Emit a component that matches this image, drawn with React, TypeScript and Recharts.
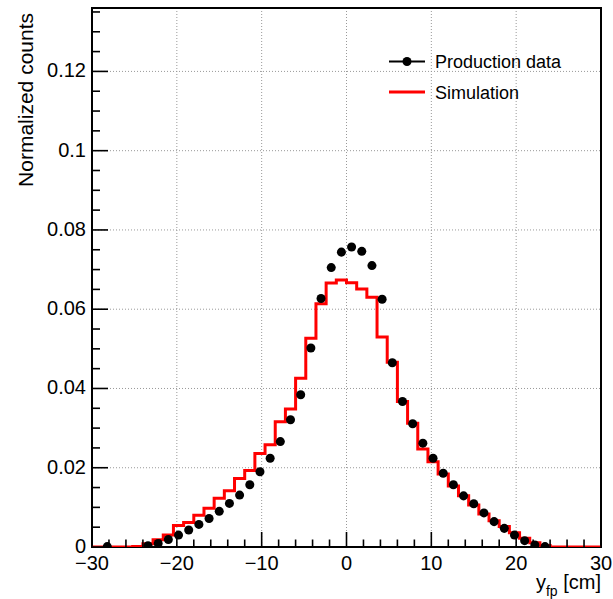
import { CartesianGrid, ComposedChart, Label, Line, ReferenceArea, Scatter, XAxis, YAxis } from "recharts";

const X_MIN = -30;
const X_MAX = 30;
const BIN_WIDTH = 1.2;
const Y_MAX = 0.136;

// 50 bins of 1.2 cm from -30 to 30 (null = empty bin, no marker)
const productionCounts = [
  null, 0.0001, null, null, null, 0.0003, 0.0009, 0.0019, 0.003, 0.0043,
  0.0057, 0.0072, 0.009, 0.011, 0.0131, 0.0157, 0.019, 0.0224, 0.0266, 0.0321,
  0.0384, 0.0502, 0.0627, 0.0705, 0.0744, 0.0757, 0.0746, 0.071, 0.0625, 0.0465,
  0.0367, 0.0311, 0.0262, 0.0224, 0.0186, 0.0157, 0.0129, 0.0109, 0.0086, 0.0064,
  0.0047, 0.003, 0.0016, 0.0005, 0.0001, null, null, null, null, null,
];

const simulationCounts = [
  0, 0, 0, 0, 0.0001, 0.0008, 0.0018, 0.003, 0.0054, 0.0062,
  0.008, 0.0098, 0.0123, 0.0142, 0.0173, 0.0193, 0.0236, 0.0258, 0.0316, 0.0348,
  0.0426, 0.0527, 0.0614, 0.0666, 0.0674, 0.0667, 0.0651, 0.063, 0.053, 0.0466,
  0.0367, 0.0312, 0.0247, 0.0215, 0.0184, 0.0154, 0.0129, 0.0106, 0.0083, 0.0066,
  0.0052, 0.0036, 0.0022, 0.0011, 0.0004, 0, 0, 0, 0, 0,
];

const xMajorTicks = [-30, -20, -10, 0, 10, 20, 30];
const yMajorTicks = [0, 0.02, 0.04, 0.06, 0.08, 0.1, 0.12];
const X_MINOR_STEP = 2;
const Y_MINOR_STEP = 0.005;

const FONT = '"Liberation Sans", Arial, Helvetica, sans-serif';

// step line needs points on the bin edges
const simTable = simulationCounts
  .map((v, i) => ({ x: Number((X_MIN + i * BIN_WIDTH).toFixed(2)), sim: v }))
  .concat([{ x: X_MAX, sim: simulationCounts[simulationCounts.length - 1] }]);

const dataPoints = productionCounts
  .map((v, i) => ({ x: Number((X_MIN + (i + 0.5) * BIN_WIDTH).toFixed(2)), y: v }))
  .filter((p) => p.y !== null);

const xTicks: number[] = [];
for (let v = X_MIN; v <= X_MAX + 1e-9; v += X_MINOR_STEP) xTicks.push(Math.round(v));
const yTicks: number[] = [];
for (let i = 0; i * Y_MINOR_STEP <= Y_MAX; i++) yTicks.push(Number((i * Y_MINOR_STEP).toFixed(3)));

const isMajor = (list: number[], v: number) => list.some((m) => Math.abs(m - v) < 1e-9);
const fmtX = (v: number) => (v < 0 ? "\u2212" + Math.abs(v) : String(v));

function XTick(props: any) {
  const { x, y, payload } = props;
  const major = isMajor(xMajorTicks, payload.value);
  return (
    <g>
      <line x1={x} x2={x} y1={y} y2={y - (major ? 15 : 7.5)} stroke="#000" strokeWidth={1.6} />
      {major && (
        <text x={x} y={y + 23} textAnchor="middle" fontSize={20} fontFamily={FONT} fill="#000">
          {fmtX(payload.value)}
        </text>
      )}
    </g>
  );
}

function YTick(props: any) {
  const { x, y, payload } = props;
  const major = isMajor(yMajorTicks, payload.value);
  return (
    <g>
      <line x1={x} x2={x + (major ? 16 : 8)} y1={y} y2={y} stroke="#000" strokeWidth={1.6} />
      {major && (
        <text x={x - 6} y={y + 6} textAnchor="end" fontSize={20} fontFamily={FONT} fill="#000">
          {String(payload.value)}
        </text>
      )}
    </g>
  );
}

export default function App() {
  return (
    <div style={{ position: "fixed", left: 0, top: 0, width: 613, height: 599, background: "#fff" }}>
      <ComposedChart width={613} height={599} data={simTable} margin={{ top: 8, right: 12, bottom: 0, left: 0 }}>
        <CartesianGrid
          stroke="#999"
          strokeDasharray="1 2"
          verticalValues={[-20, -10, 0, 10, 20]}
          horizontalValues={[0.02, 0.04, 0.06, 0.08, 0.1, 0.12]}
        />
        <XAxis
          type="number"
          dataKey="x"
          domain={[X_MIN, X_MAX]}
          ticks={xTicks}
          interval={0}
          tickSize={0}
          tickMargin={0}
          axisLine={false}
          tickLine={false}
          tick={XTick}
          height={52}
          allowDataOverflow
        >
          <Label
            content={({ viewBox }: any) => (
              <text x={viewBox.x + viewBox.width} y={viewBox.y + 42} textAnchor="end" fontSize={20} fontFamily={FONT} fill="#000">
                y<tspan fontSize={14} dy={7}>fp</tspan>
                <tspan dy={-7}>{"\u00a0[cm]"}</tspan>
              </text>
            )}
          />
        </XAxis>
        <YAxis
          type="number"
          domain={[0, Y_MAX]}
          ticks={yTicks}
          interval={0}
          tickSize={0}
          tickMargin={0}
          axisLine={false}
          tickLine={false}
          tick={YTick}
          width={92}
          allowDataOverflow
        >
          <Label
            content={({ viewBox }: any) => (
              <text
                x={viewBox.x + 33}
                y={viewBox.y + 5}
                transform={`rotate(-90, ${viewBox.x + 33}, ${viewBox.y + 5})`}
                textAnchor="end"
                fontSize={21}
                fontFamily={FONT}
                fill="#000"
              >
                Normalized counts
              </text>
            )}
          />
        </YAxis>
        <ReferenceArea x1={X_MIN} x2={X_MAX} y1={0} y2={Y_MAX} fill="none" stroke="#000" strokeWidth={2} />
        <Line
          type="stepAfter"
          dataKey="sim"
          stroke="#ff0000"
          strokeWidth={3}
          dot={false}
          activeDot={false}
          isAnimationActive={false}
        />
        <Scatter data={dataPoints} dataKey="y" fill="#000" shape="circle" isAnimationActive={false} />
      </ComposedChart>
      <svg width={613} height={599} style={{ position: "absolute", left: 0, top: 0, pointerEvents: "none" }}>
        <line x1={389} x2={425} y1={61.5} y2={61.5} stroke="#000" strokeWidth={2} />
        <circle cx={407} cy={61.5} r={4.5} fill="#000" />
        <text x={435} y={68} fontSize={18} fontFamily={FONT} fill="#000">Production data</text>
        <line x1={389} x2={425} y1={92} y2={92} stroke="#ff0000" strokeWidth={3} />
        <text x={435} y={99} fontSize={18} fontFamily={FONT} fill="#000">Simulation</text>
      </svg>
    </div>
  );
}
